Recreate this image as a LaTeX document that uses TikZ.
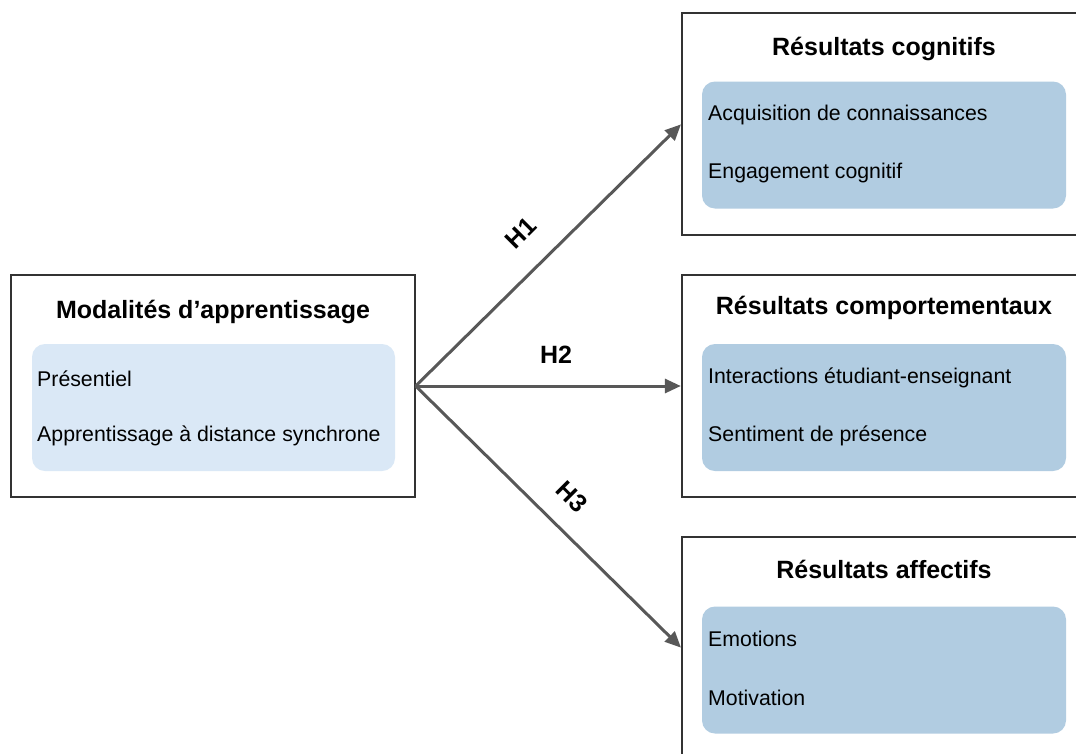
\documentclass[tikz,border=0pt]{standalone}
\usepackage{fontspec}
\setmainfont{Liberation Sans}
\usetikzlibrary{arrows.meta}
\definecolor{edgegray}{HTML}{333333}
\definecolor{arrowgray}{HTML}{585858}
\definecolor{lightin}{HTML}{DAE8F6}
\definecolor{darkin}{HTML}{B1CCE1}
\tikzset{
  outerbox/.style={draw=edgegray, line width=1.3pt, fill=white, minimum width=404pt, minimum height=222pt, inner sep=0pt},
  innerbox/.style={rounded corners=13pt, inner sep=0pt, minimum height=127pt},
  leftin/.style={innerbox, fill=lightin, minimum width=363pt},
  rightin/.style={innerbox, fill=darkin, minimum width=364pt},
  titletext/.style={font=\fontsize{25}{30}\selectfont\bfseries, inner sep=0pt},
  itemtext/.style={font=\fontsize{21.3}{25}\selectfont, anchor=west, inner sep=0pt},
  conn/.style={draw=arrowgray, line width=3pt, -{Triangle[length=16pt,width=14pt]}, shorten >=0.5pt},
  hlabel/.style={font=\fontsize{25}{29}\selectfont\bfseries, inner sep=0pt},
}
\begin{document}
\begin{tikzpicture}[x=1pt,y=-1pt]
\useasboundingbox (0,0) rectangle (1076,753);
\clip (0,0) rectangle (1076,753);
% left box
\node[outerbox] (L) at (213,386) {};
\node[titletext] (Lt) at (213,311.5) {Modalités d’apprentissage};
\node[leftin] (Li) at (213.5,407.5) {};
\node[itemtext] (L1) at (37,379) {Présentiel};
\node[itemtext] (L2) at (37,436) {Apprentissage à distance synchrone};
% right boxes
\node[outerbox] (C1) at (884,124) {};
\node[titletext] (C1t) at (884,48.5) {Résultats cognitifs};
\node[rightin] (C1i) at (884,145) {};
\node[itemtext] (C1a) at (708,115) {Acquisition de connaissances};
\node[itemtext] (C1b) at (708,173) {Engagement cognitif};

\node[outerbox] (C2) at (884,386) {};
\node[titletext] (C2t) at (884,307.5) {Résultats comportementaux};
\node[rightin] (C2i) at (884,407.5) {};
\node[itemtext] (C2a) at (708,378) {Interactions étudiant-enseignant};
\node[itemtext] (C2b) at (708,436) {Sentiment de présence};

\node[outerbox] (C3) at (884,648) {};
\node[titletext] (C3t) at (884,569.5) {Résultats affectifs};
\node[rightin] (C3i) at (884,670) {};
\node[itemtext] (C3a) at (708,639) {Emotions};
\node[itemtext] (C3b) at (708,698) {Motivation};
% connectors
\draw[conn] (L.east) -- (C1.west);
\draw[conn] (L.east) -- (C2.west);
\draw[conn] (L.east) -- (C3.west);
\node[hlabel, rotate=45] (H1) at (521,233) {H1};
\node[hlabel] (H2) at (556,355) {H2};
\node[hlabel, rotate=-45] (H3) at (572,497) {H3};
\end{tikzpicture}
\end{document}
